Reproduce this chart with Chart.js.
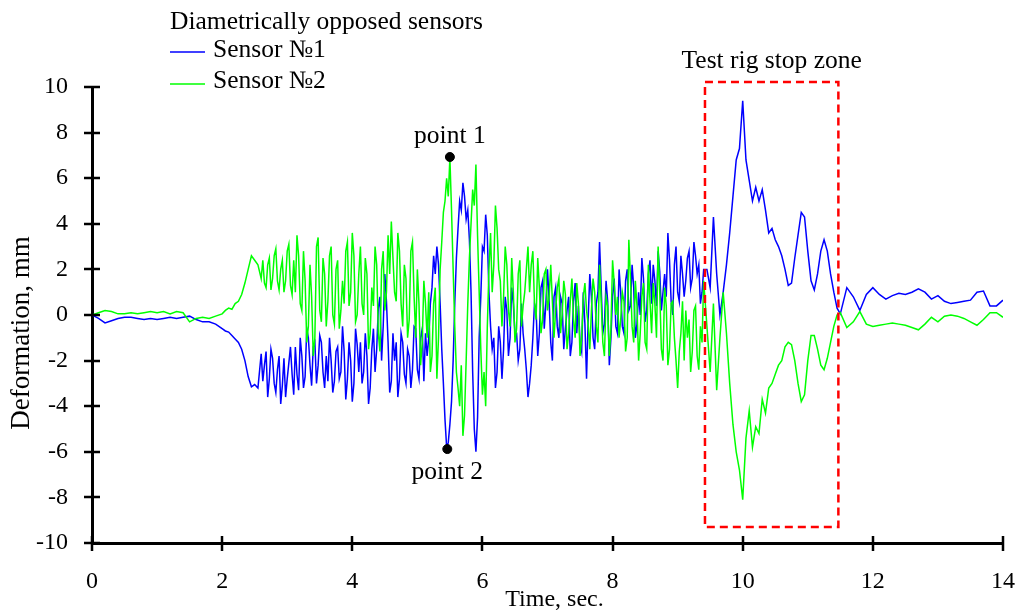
<!DOCTYPE html>
<html><head><meta charset="utf-8">
<script src="https://cdn.jsdelivr.net/npm/chart.js@4.4.0/dist/chart.umd.min.js"></script>
<style>html,body{margin:0;padding:0;background:#fff;}#wrap{width:1016px;height:614px;}</style>
</head><body><div id="wrap"><canvas id="c" width="1016" height="614"></canvas></div>
<script>
const time = [
0,0.1,0.2,0.3,0.4,0.5,0.6,0.7,0.8,0.9,1,1.1,1.2,1.3,1.4,1.5,1.6,1.7,1.8,1.9,2,
2.05,2.1,2.15,2.2,2.25,2.3,2.35,2.4,2.45,2.5,2.55,2.6,
2.625,2.65,2.675,2.7,2.725,2.75,2.775,2.8,2.825,2.85,2.875,2.9,2.925,2.95,2.975,3,3.025,3.05,3.075,3.1,
3.125,3.15,3.175,3.2,3.225,3.25,3.275,3.3,3.325,3.35,3.375,3.4,3.425,3.45,3.475,3.5,3.525,3.55,3.575,3.6,
3.625,3.65,3.675,3.7,3.725,3.75,3.775,3.8,3.825,3.85,3.875,3.9,3.925,3.95,3.975,4,4.025,4.05,4.075,4.1,
4.125,4.15,4.175,4.2,4.225,4.25,4.275,4.3,4.325,4.35,4.375,4.4,4.425,4.45,4.475,4.5,4.525,4.55,4.575,4.6,
4.625,4.65,4.675,4.7,4.725,4.75,4.775,4.8,4.825,4.85,4.875,4.9,4.925,4.95,4.975,5,5.025,5.05,5.075,5.1,
5.125,5.15,5.175,5.2,5.225,5.25,5.275,5.3,5.325,5.35,5.375,5.4,5.425,5.45,5.475,5.5,5.525,5.55,5.575,5.6,
5.625,5.65,5.675,5.7,5.725,5.75,5.775,5.8,5.825,5.85,5.875,5.9,5.925,5.95,5.975,6,6.025,6.05,6.075,6.1,
6.125,6.15,6.175,6.2,6.225,6.25,6.275,6.3,6.325,6.35,6.375,6.4,6.425,6.45,6.475,6.5,6.525,6.55,6.575,6.6,
6.625,6.65,6.675,6.7,6.725,6.75,6.775,6.8,6.825,6.85,6.875,6.9,6.925,6.95,6.975,7,7.025,7.05,7.075,7.1,
7.125,7.15,7.175,7.2,7.225,7.25,7.275,7.3,7.325,7.35,7.375,7.4,7.425,7.45,7.475,7.5,7.525,7.55,7.575,7.6,
7.625,7.65,7.675,7.7,7.725,7.75,7.775,7.8,7.825,7.85,7.875,7.9,7.925,7.95,7.975,8,8.025,8.05,8.075,8.1,
8.125,8.15,8.175,8.2,8.225,8.25,8.275,8.3,8.325,8.35,8.375,8.4,8.425,8.45,8.475,8.5,8.525,8.55,8.575,8.6,
8.625,8.65,8.675,8.7,8.725,8.75,8.775,8.8,8.825,8.85,8.875,8.9,8.925,8.95,8.975,9,9.025,9.05,9.075,9.1,
9.125,9.15,9.175,9.2,9.225,9.25,9.275,9.3,9.325,9.35,9.375,9.4,
9.45,9.5,9.55,9.6,9.65,9.7,9.75,9.8,9.85,9.9,
9.95,10,10.05,10.1,10.15,10.2,10.25,10.3,10.35,10.4,
10.45,10.5,10.55,10.6,10.65,10.7,10.75,10.8,10.85,10.9,
10.95,11,11.05,11.1,11.15,11.2,11.25,11.3,11.35,11.4,
11.45,11.5,
11.6,11.7,11.8,11.9,12,12.1,12.2,12.3,12.4,12.5,12.6,12.7,12.8,12.9,13,13.1,13.2,13.3,13.4,13.5,13.6,13.7,13.8,13.9,14
];
const sensor1 = [
0,-0.15,-0.35,-0.25,-0.15,-0.1,-0.1,-0.15,-0.2,-0.15,-0.2,-0.15,-0.1,-0.15,-0.1,-0.05,-0.2,-0.3,-0.3,-0.4,-0.6,
-0.7,-0.75,-0.9,-1.05,-1.2,-1.5,-2.0,-2.7,-3.15,-3.05,-3.2,-1.7,
-2.9,-2.2,-1.6,-3.6,-2.8,-1.5,-1.9,-3.0,-3.4,-2.4,-1.8,-3.9,-3.1,-1.9,-3.6,-2.8,-2.1,-1.4,-2.6,-3.5,
-1.4,-2.6,-3.3,-1.0,-1.8,-3.2,-2.7,-0.6,-1.0,-2.2,-3.1,-1.4,-1.2,-3.0,-2.2,-0.9,-1.2,-2.5,-3.2,-1.8,
-2.9,-1.0,-2.0,-3.4,-2.9,-1.6,-1.4,-2.8,-2.5,-0.5,-1.6,-3.7,-2.8,-1.2,-2.0,-3.8,-3.0,-0.6,-1.3,-2.5,
-1.2,-3.0,-2.5,-0.8,-1.8,-3.9,-3.2,-1.5,-0.6,-2.5,-1.5,0.3,0.8,-2.0,-0.5,1.8,0.6,-1.2,-3.4,-2.9,
-0.8,-2.0,-1.2,-3.6,-2.8,-0.8,-1.2,-2.6,-3.0,-1.5,-1.8,-3.2,-2.4,-0.5,-0.6,-2.4,-2.8,-1.0,-0.6,-2.9,
-0.8,-1.8,-1.0,0.5,1.2,2.6,1.8,3.0,2.2,0.5,-1.5,-3.0,-4.6,-5.8,-5.6,-4.8,-3.8,-2.0,0.5,2.5,
3.8,5.0,4.6,5.8,5.2,4.2,4.6,3.3,1.0,-2.5,-5.0,-6.0,-4.5,-1.0,0.8,3.0,2.8,4.4,3.5,1.0,
-0.5,-1.5,-1.0,-3.2,-2.5,-0.5,-1.2,-2.8,-1.5,0.8,0.2,-1.8,-1.0,1.2,0.5,-0.8,-0.8,-2.0,-1.5,0.5,
-0.8,-1.5,-2.4,-3.6,-3.0,-2.2,-1.0,0.5,0.2,-1.8,-0.8,1.2,1.5,-0.6,0.5,2.0,0.6,-1.2,-2.0,0.8,
1.2,-0.5,-1.0,0.8,0.5,-1.5,-0.6,0.2,0.8,-1.8,-1.2,0.6,1.4,-0.8,0.4,-1.2,-1.6,1.0,-0.4,-2.8,
-0.2,1.8,0.8,-1.0,-1.5,0.5,1.0,3.2,1.2,-0.8,-0.4,1.5,0.6,-2.2,-1.0,0.8,1.6,-0.5,-0.8,2.0,
1.0,-0.5,-0.8,1.5,2.0,0.2,0.4,2.2,1.2,-1.0,-0.4,1.0,0.0,2.5,1.6,-0.3,0.2,1.8,2.4,0.5,
2.2,1.5,0.4,2.8,1.9,0.2,1.0,1.8,0.8,3.6,2.4,0.6,0.0,2.2,3.0,1.0,0.6,2.6,1.8,0.8,
1.5,2.5,2.8,1.2,1.6,3.2,2.6,1.8,2.2,0.5,1.0,2.0,
2.0,1.2,4.3,1.8,0.0,1.0,2.2,3.6,5.2,6.8,
7.3,9.4,6.8,5.9,5.0,5.6,5.0,5.5,4.6,3.6,
3.8,3.3,3.0,2.6,2.0,1.3,1.4,2.5,3.5,4.5,
4.3,2.8,1.5,1.1,1.8,2.8,3.3,2.8,1.8,1.0,
0.3,0.05,
1.2,0.8,0.2,0.9,1.2,0.9,0.7,0.85,0.95,0.9,1.0,1.15,1.0,0.7,0.85,0.6,0.5,0.55,0.6,0.65,1.0,1.05,0.4,0.4,0.65
];
const sensor2 = [
0,0.1,0.2,0.15,0.05,0.05,0.1,0.05,0.1,0.15,0.1,0.15,0.05,0.15,0.1,-0.3,-0.15,-0.1,-0.15,-0.05,0.05,
0.2,0.3,0.25,0.5,0.6,0.9,1.4,2.0,2.6,2.4,2.2,1.6,
2.4,1.4,1.2,2.2,2.5,1.1,1.6,2.6,2.9,1.5,1.1,2.0,2.4,1.0,1.5,2.8,3.1,1.3,0.9,2.4,
1.0,3.5,2.6,0.5,0.2,2.8,1.5,-1.2,-0.5,2.2,0.8,-1.8,-1.0,3.0,3.4,0.2,-0.3,2.5,1.8,-0.5,
0.6,2.6,3.0,0.0,-0.4,2.0,2.4,-0.6,0.2,1.5,0.5,2.8,3.2,0.4,1.0,3.6,2.6,-0.3,0.0,1.8,
3.0,0.5,0.0,2.5,1.8,-1.5,-0.8,1.2,0.4,3.0,2.2,-0.8,-1.6,2.0,2.8,0.2,1.0,3.5,1.8,4.1,
2.5,1.0,0.6,3.6,2.8,0.5,-0.5,2.2,1.6,-1.0,-0.2,2.8,3.2,0.8,-1.0,2.0,0.5,-2.2,-1.2,1.5,
0.5,-1.0,1.0,-2.5,-1.8,0.5,1.2,-2.8,-1.0,2.0,3.2,4.5,5.0,6.0,5.2,6.9,4.6,2.0,-0.5,-2.5,
-3.2,-4.0,-2.2,-5.3,-4.4,-2.0,0.5,2.5,4.0,5.5,4.8,6.6,3.5,1.0,-1.5,-3.5,-2.5,-4.0,-0.5,2.0,
3.6,1.0,2.2,4.8,3.8,2.0,1.5,-0.5,0.8,3.0,2.2,0.2,-0.5,2.5,1.0,-1.2,-0.6,1.8,2.4,-0.5,
0.4,1.0,2.0,3.0,1.0,2.2,2.8,0.5,-0.2,2.5,1.2,-0.8,-0.2,1.8,2.0,0.2,0.8,2.2,0.6,-1.0,
0.2,1.2,1.6,-0.8,0.0,1.5,0.9,-1.5,-0.8,0.6,1.6,-0.2,-1.0,1.4,0.5,-1.8,-1.0,0.8,1.4,0.2,
-0.4,-1.5,0.2,1.6,1.0,-0.5,-1.2,2.2,0.6,-1.2,-1.8,0.8,0.4,-1.8,-0.6,2.4,1.4,0.0,0.8,-1.0,
-0.2,1.0,0.6,-1.6,-1.0,3.3,1.6,-0.5,-1.2,1.5,0.4,-2.0,-0.8,0.8,1.4,-1.2,-1.5,2.2,0.6,-0.8,
1.4,0.5,-1.0,3.0,1.0,-1.5,-2.0,1.2,0.4,-2.2,-1.5,0.5,0.6,-1.0,-2.0,-3.2,-1.6,-0.8,0.6,-2.0,
0.2,-1.0,-0.2,-2.5,-1.6,0.2,0.4,-1.8,-2.4,-0.5,-1.2,1.5,
-0.5,-2.5,0.5,-3.3,-1.0,1.0,-0.8,-3.0,-4.8,-6.0,
-6.8,-8.1,-5.4,-4.2,-5.8,-4.9,-5.2,-3.7,-4.3,-3.2,
-3.0,-2.6,-2.2,-2.0,-1.4,-1.2,-1.3,-2.0,-3.0,-3.8,
-3.5,-2.0,-0.9,-0.9,-1.5,-2.2,-2.4,-1.9,-1.2,-0.5,
0.0,0.1,
-0.55,-0.3,0.15,-0.4,-0.5,-0.45,-0.4,-0.35,-0.4,-0.45,-0.55,-0.65,-0.4,-0.1,-0.3,-0.05,0.0,-0.05,-0.15,-0.3,-0.45,-0.2,0.1,0.1,-0.1
];
const markedTimes = [5.5, 5.46];
const markedValues = [6.93, -5.88];
const markedLabels = ['point 1', 'point 2'];
const xTickValues = [0, 2, 4, 6, 8, 10, 12, 14];
const yTickValues = [-10, -8, -6, -4, -2, 0, 2, 4, 6, 8, 10];
const zoneTimes = [9.42, 11.47];
const zoneValues = [-9.3, 10.22];
const zoneLabel = 'Test rig stop zone';
const legendTitle = 'Diametrically opposed sensors';
const seriesNames = ['Sensor №1', 'Sensor №2'];
const seriesColors = ['#0000ff', '#00ff00'];
const xTitle = 'Time, sec.';
const yTitle = 'Deformation, mm';

const FONT = "'Liberation Serif', 'Times New Roman', serif";

const overlay = {
  id: 'overlay',
  afterDatasetsDraw(chart) {
    const {ctx, scales: {x, y}} = chart;
    ctx.save();
    const x0 = x.getPixelForValue(zoneTimes[0]), x1 = x.getPixelForValue(zoneTimes[1]);
    const y0 = y.getPixelForValue(zoneValues[1]), y1 = y.getPixelForValue(zoneValues[0]);
    ctx.strokeStyle = '#ff0000';
    ctx.lineWidth = 2.5;
    ctx.setLineDash([8, 5]);
    ctx.strokeRect(x0, y0, x1 - x0, y1 - y0);
    ctx.setLineDash([]);
    ctx.fillStyle = '#000';
    ctx.font = '25.5px ' + FONT;
    ctx.textAlign = 'center';
    ctx.textBaseline = 'alphabetic';
    ctx.fillText(zoneLabel, (x0 + x1) / 2, y0 - 14);
    markedTimes.forEach((t, i) => {
      const px = x.getPixelForValue(t), py = y.getPixelForValue(markedValues[i]);
      if (markedValues[i] > 0) ctx.fillText(markedLabels[i], px, py - 14);
      else ctx.fillText(markedLabels[i], px, py + 30);
    });
    ctx.restore();
  },
  afterDraw(chart) {
    const {ctx, scales: {x, y}} = chart;
    ctx.save();
    ctx.strokeStyle = '#000';
    ctx.lineWidth = 2.5;
    ctx.beginPath();
    xTickValues.forEach(v => {
      const px = Math.round(x.getPixelForValue(v));
      ctx.moveTo(px, y.bottom - 7); ctx.lineTo(px, y.bottom + 8);
    });
    yTickValues.forEach(v => {
      const py = Math.round(y.getPixelForValue(v));
      ctx.moveTo(x.left - 8, py); ctx.lineTo(x.left + 8, py);
    });
    ctx.stroke();
    // axis titles
    ctx.fillStyle = '#000';
    ctx.textAlign = 'center';
    ctx.textBaseline = 'middle';
    ctx.font = '24px ' + FONT;
    ctx.fillText(xTitle, (x.left + x.right) / 2 + 7, 600);
    ctx.save();
    ctx.translate(22, (y.top + y.bottom) / 2 + 18);
    ctx.rotate(-Math.PI / 2);
    ctx.font = '27px ' + FONT;
    ctx.fillText(yTitle, 0, 0);
    ctx.restore();
    // legend
    ctx.font = '25.5px ' + FONT;
    ctx.textAlign = 'left';
    ctx.textBaseline = 'alphabetic';
    ctx.fillText(legendTitle, 170, 29);
    const rows = [[52, 57], [84, 88]];
    seriesNames.forEach((n, i) => {
      ctx.strokeStyle = seriesColors[i];
      ctx.lineWidth = 1.5;
      ctx.beginPath();
      ctx.moveTo(170, rows[i][0]); ctx.lineTo(205, rows[i][0]);
      ctx.stroke();
      ctx.fillText(n, 213, rows[i][1]);
    });
    ctx.restore();
  }
};

new Chart(document.getElementById('c'), {
  type: 'scatter',
  data: {
    datasets: [
      {
        label: 'marked points',
        data: markedTimes.map((t, i) => ({x: t, y: markedValues[i]})),
        showLine: false, pointRadius: 4.5, pointBackgroundColor: '#000', pointBorderColor: '#000', order: 0
      },
      {
        label: seriesNames[1],
        data: time.map((t, i) => ({x: t, y: sensor2[i]})),
        showLine: true, borderColor: seriesColors[1], borderWidth: 1.5, pointRadius: 0, tension: 0, order: 1
      },
      {
        label: seriesNames[0],
        data: time.map((t, i) => ({x: t, y: sensor1[i]})),
        showLine: true, borderColor: seriesColors[0], borderWidth: 1.5, pointRadius: 0, tension: 0, order: 2
      }
    ]
  },
  options: {
    responsive: false,
    animation: false,
    devicePixelRatio: 1,
    layout: {padding: {left: 0, right: 13, top: 87, bottom: 0}},
    plugins: {legend: {display: false}, tooltip: {enabled: false}},
    scales: {
      x: {
        type: 'linear', min: 0, max: 14,
        ticks: {stepSize: 2, color: '#000', font: {family: FONT, size: 24}, padding: 16, maxRotation: 0},
        grid: {display: false},
        border: {display: true, color: '#000', width: 3},
        title: {display: false},
        afterFit(s) { s.height = 71; s.paddingLeft = 0; s.paddingRight = 0; }
      },
      y: {
        type: 'linear', min: -10, max: 10,
        ticks: {stepSize: 2, color: '#000', font: {family: FONT, size: 24}, padding: 16},
        grid: {display: false},
        border: {display: true, color: '#000', width: 3},
        title: {display: false},
        afterFit(s) { s.width = 92; s.paddingTop = 0; s.paddingBottom = 0; }
      }
    }
  },
  plugins: [overlay]
});
</script>
</body></html>
